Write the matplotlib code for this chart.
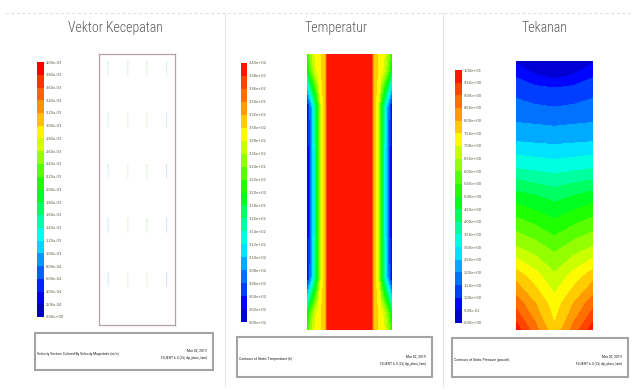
import numpy as np
import matplotlib
matplotlib.use("Agg")
import matplotlib.pyplot as plt
from matplotlib.colors import LinearSegmentedColormap, BoundaryNorm
from matplotlib.patches import Rectangle
import matplotlib.cm as cm

# ---- data ----
titles = ["Vektor Kecepatan", "Temperatur", "Tekanan"]
footers = ["Velocity Vectors Colored By Velocity Magnitude (m/s)",
           "Contours of Static Temperature (k)",
           "Contours of Static Pressure (pascal)"]
footer_date = "Mar 02, 2019"
footer_solver = "FLUENT 6.3 (2d, dp, pbns, lam)"

# velocity (m/s)
vel_ticks = [0.0, 2e-4, 4e-4, 6e-4, 8e-4, 1.0e-3, 1.2e-3, 1.4e-3, 1.6e-3, 1.8e-3, 2.0e-3,
             2.2e-3, 2.4e-3, 2.6e-3, 2.8e-3, 3.0e-3, 3.2e-3, 3.4e-3, 3.6e-3, 3.8e-3, 4.0e-3]
vec_x = [0.12, 0.38, 0.63, 0.89]
vec_y = [0.08, 0.27, 0.46, 0.66, 0.86]
vec_speed = [[1.6e-3, 1.9e-3, 2.1e-3, 1.2e-3],
             [1.5e-3, 2.6e-3, 2.4e-3, 1.1e-3],
             [1.0e-3, 2.8e-3, 2.2e-3, 0.9e-3],
             [0.9e-3, 2.5e-3, 2.0e-3, 0.8e-3],
             [0.8e-3, 2.7e-3, 2.6e-3, 0.7e-3]]

# temperature (K)
temp_ticks = [300, 302, 304, 306, 308, 310, 312, 314, 316, 318, 320,
              322, 324, 326, 328, 330, 332, 334, 336, 338, 340]
temp_x = [0, 0.04, 0.09, 0.13, 0.17, 0.21, 0.235, 0.5,
          0.765, 0.79, 0.83, 0.87, 0.91, 0.96, 1.0]
temp_y = [0, 0.06, 0.19, 0.35, 0.5, 0.65, 0.81, 0.94, 1.0]
temp_field = [
    [320, 325, 328, 329, 330, 331, 340, 340, 340, 331, 330, 329, 328, 325, 320],
    [317, 323, 327, 329, 330, 331, 340, 340, 340, 331, 330, 329, 327, 323, 317],
    [301, 307, 314, 321, 328, 331, 340, 340, 340, 331, 328, 321, 314, 307, 301],
    [301, 306, 313, 321, 328, 331, 340, 340, 340, 331, 328, 321, 313, 306, 301],
    [301, 306, 313, 321, 328, 331, 340, 340, 340, 331, 328, 321, 313, 306, 301],
    [301, 306, 313, 321, 328, 331, 340, 340, 340, 331, 328, 321, 313, 306, 301],
    [301, 307, 314, 321, 328, 331, 340, 340, 340, 331, 328, 321, 314, 307, 301],
    [317, 323, 327, 329, 330, 331, 340, 340, 340, 331, 330, 329, 327, 323, 317],
    [320, 325, 328, 329, 330, 331, 340, 340, 340, 331, 330, 329, 328, 325, 320],
]

# pressure (pascal)
press_ticks = [0.0, 0.5, 1.0, 1.5, 2.0, 2.5, 3.0, 3.5, 4.0, 4.5, 5.0,
               5.5, 6.0, 6.5, 7.0, 7.5, 8.0, 8.5, 9.0, 9.5, 10.0]
press_x = [0, 0.25, 0.5, 0.75, 1.0]
press_y = [0, 0.05, 0.1, 0.2, 0.3, 0.4, 0.5, 0.6, 0.7, 0.8, 0.9, 1.0]
press_field = [
    [0.4, 0.15, 0.0, 0.15, 0.4],
    [0.9, 0.5, 0.25, 0.5, 0.9],
    [1.3, 1.1, 1.0, 1.1, 1.3],
    [1.8, 1.75, 1.7, 1.75, 1.8],
    [2.5, 2.45, 2.4, 2.45, 2.5],
    [3.5, 3.4, 3.3, 3.4, 3.5],
    [4.7, 4.5, 4.3, 4.5, 4.7],
    [5.7, 5.4, 5.1, 5.4, 5.7],
    [6.6, 6.3, 5.9, 6.3, 6.6],
    [7.8, 7.2, 6.6, 7.2, 7.8],
    [8.8, 8.0, 7.2, 8.0, 8.8],
    [9.8, 8.7, 7.6, 8.7, 9.8],
]

# ---- figure ----
W, H = 632, 390
narrow = ["Arial Narrow", "Liberation Sans Narrow", "Roboto Condensed",
          "Archivo Narrow", "PT Sans Narrow", "Liberation Sans", "DejaVu Sans"]
fluent = LinearSegmentedColormap.from_list(
    "fluent", [(0, "#0000c0"), (0.07, "#0000ff"), (0.3, "#00ffff"),
               (0.5, "#00ff00"), (0.72, "#ffff00"), (1, "#ff0000")])

fig = plt.figure(figsize=(W / 100, H / 100), dpi=100)
fig.patch.set_facecolor("white")


def px_axes(x0, y0, x1, y1):
    return fig.add_axes([x0 / W, 1 - y1 / H, (x1 - x0) / W, (y1 - y0) / H])


bg = fig.add_axes([0, 0, 1, 1])
bg.set_xlim(0, W)
bg.set_ylim(H, 0)
bg.axis("off")

# faint frame lines between panels
bg.plot([5, 630], [13, 13], color="#e2e2e2", lw=0.8, ls=(0, (3, 2)))
for xs in (225, 443):
    bg.plot([xs, xs], [13, 386], color="#e6e6e6", lw=0.8)

title_x = [115, 336, 544]
for tx, t in zip(title_x, titles):
    bg.text(tx, 28, t, ha="center", va="center", fontsize=10,
            color="#5a5a5a", family=narrow, fontweight="light")

# footer boxes
boxes = [(35, 333, 213, 370), (237, 337, 432, 377), (452, 338, 628, 377)]
for (x0, y0, x1, y1), txt in zip(boxes, footers):
    bg.add_patch(Rectangle((x0, y0), x1 - x0, y1 - y0, fill=False,
                           ec="#a4a4a4", lw=1.5))
    ym = (y0 + y1) / 2
    bg.text(x0 + 2, ym + 2, txt, ha="left", va="center", fontsize=2.8,
            color="#222222", family=narrow)
    bg.text(x1 - 6, ym - 1, footer_date, ha="right", va="center",
            fontsize=2.8, color="#222222", family=narrow)
    bg.text(x1 - 6, ym + 7, footer_solver, ha="right", va="center",
            fontsize=2.8, color="#222222", family=narrow)


def add_colorbar(mappable, rect, ticks, fmt):
    cax = px_axes(*rect)
    cb = fig.colorbar(mappable, cax=cax, ticks=ticks)
    cb.ax.set_yticklabels([fmt.format(v) for v in ticks])
    cb.ax.tick_params(length=0, pad=1.5, labelsize=2.6, labelcolor="#55553f")
    cb.outline.set_linewidth(0)
    return cb


# ---- panel 1: velocity vectors ----
ax1 = px_axes(99, 54, 175, 325)
ax1.set_xlim(0, 1)
ax1.set_ylim(1, 0)
ax1.set_xticks([])
ax1.set_yticks([])
for s in ax1.spines.values():
    s.set_color("#b0a2a2")
    s.set_linewidth(0.9)
vnorm = BoundaryNorm(vel_ticks, fluent.N)
VX, VY = np.meshgrid(vec_x, vec_y)
spd = np.array(vec_speed)
cols = fluent(vnorm(spd.ravel()))
cols[:, :3] = 0.5 * cols[:, :3] + 0.5 * 0.6
cols[:, 3] = 0.3
ax1.quiver(VX, VY, np.zeros_like(spd), -np.full_like(spd, 0.055),
           color=cols, angles="xy", scale_units="xy", scale=1,
           width=0.01, headwidth=3, headlength=3, headaxislength=2.5)
add_colorbar(cm.ScalarMappable(norm=vnorm, cmap=fluent),
             (37, 62, 44, 317), vel_ticks, "{:.2e}")

# ---- panel 2: temperature ----
ax2 = px_axes(307, 54, 392, 330)
cs2 = ax2.contourf(temp_x, temp_y, np.array(temp_field), levels=temp_ticks,
                   cmap=fluent)
ax2.set_xlim(0, 1)
ax2.set_ylim(1, 0)
ax2.axis("off")
add_colorbar(cs2, (241, 63, 247, 322), temp_ticks, "{:.2e}")

# ---- panel 3: pressure ----
ax3 = px_axes(516, 61, 593, 330)
cs3 = ax3.contourf(press_x, press_y, np.array(press_field), levels=press_ticks,
                   cmap=fluent)
ax3.set_xlim(0, 1)
ax3.set_ylim(1, 0)
ax3.axis("off")
add_colorbar(cs3, (455, 70, 462, 323), press_ticks, "{:.2e}")

fig.savefig("out.png", dpi=100, facecolor="white")
